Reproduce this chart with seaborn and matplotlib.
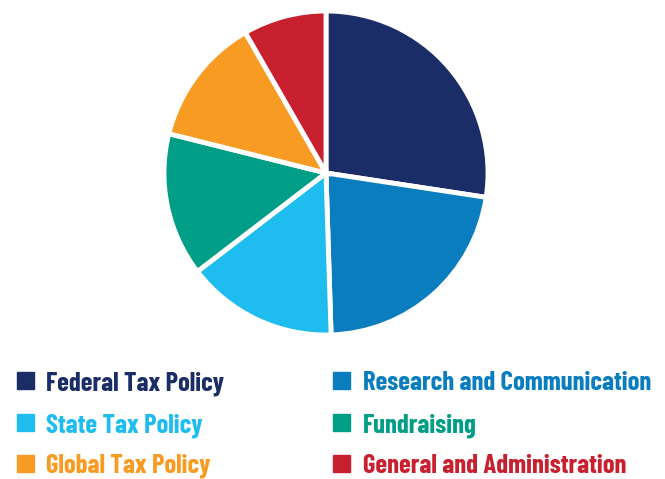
import matplotlib
matplotlib.use("Agg")
import matplotlib.pyplot as plt
import seaborn as sns
from matplotlib import font_manager

categories = ["Federal Tax Policy", "Research and Communication", "State Tax Policy",
              "Fundraising", "Global Tax Policy", "General and Administration"]
shares = [27.4, 22.1, 15.1, 14.3, 12.8, 8.3]
colors = ["#1b2d66", "#0a7dbf", "#1fbdef", "#009e86", "#f89b22", "#c8202f"]

sns.set_theme(style="white")
names = {f.name for f in font_manager.fontManager.ttflist}
fams = [f for f in ["Barlow Condensed", "Roboto Condensed",
                    "Liberation Sans Narrow", "Roboto"] if f in names] + ["DejaVu Sans"]
plt.rcParams["font.family"] = fams

W, H = 665, 479
fig = plt.figure(figsize=(W / 100, H / 100), dpi=100)
r = 162
cx, cy = 326, 173
ax = fig.add_axes([(cx - r) / W, 1 - (cy + r) / H, 2 * r / W, 2 * r / H])
ax.pie(shares, colors=colors, startangle=90, counterclock=False, radius=1,
       wedgeprops=dict(edgecolor="white", linewidth=3.5))
ax.set_xlim(-1, 1)
ax.set_ylim(-1, 1)
ax.set_aspect("equal")
ax.axis("off")

# legend: two columns, three rows, text coloured like the marker
col_x = [17, 333]
text_x = [46, 363]
baselines = [390, 432, 473]
texts = []
for i, (lab, c) in enumerate(zip(categories, colors)):
    col, row = i % 2, i // 2
    y = baselines[row]
    fig.patches.append(plt.Rectangle((col_x[col] / W, 1 - (y - 1) / H), 17 / W, 17 / H,
                                     transform=fig.transFigure, color=c))
    t = fig.text(text_x[col] / W, 1 - y / H, lab, color=c, fontsize=20, fontweight="bold",
                 va="baseline", ha="left")
    texts.append(t)

# fit the font so the longest label spans about the same width as in the reference
renderer = fig.canvas.get_renderer()
w = texts[1].get_window_extent(renderer).width
size = min(21, 20 * 288 / w)
for t in texts:
    t.set_fontsize(size)

fig.savefig("out.png", dpi=100)
